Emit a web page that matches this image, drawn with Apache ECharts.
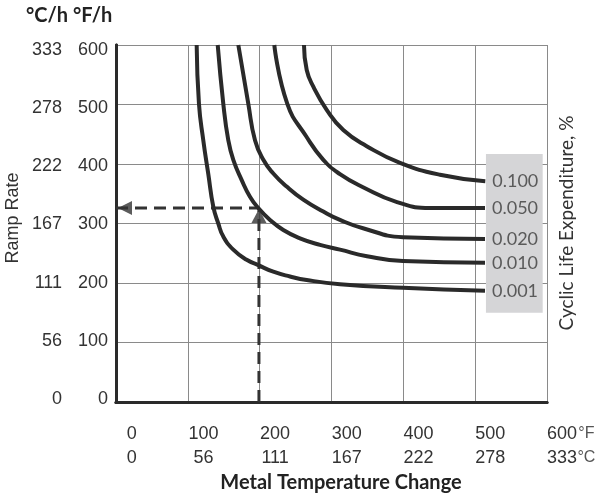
<!DOCTYPE html>
<html><head><meta charset="utf-8">
<script src="https://cdn.jsdelivr.net/npm/echarts/dist/echarts.min.js"></script>
<style>html,body{margin:0;padding:0;background:#fff}#c{width:600px;height:495px}</style>
</head><body><div id="c"></div>
<script>
// Tick labels
const fTicks = [0, 100, 200, 300, 400, 500, 600];
const cTicks = ['0', '56', '111', '167', '222', '278', '333'];
// Curves: [metal temperature change °F, ramp rate °F/h]
const curveNames = ['0.001', '0.010', '0.020', '0.050', '0.100'];
const curve001 = [[112.3,600],[115.5,501],[121.5,440],[128.5,383],[135.5,328],[142.4,300],[149.4,278],[163.3,256],[181.9,239],[198.1,230],[219.0,219],[242.2,211],[265.5,205],[311.8,198],[399.5,192],[513.7,187]];
const curve010 = [[141.6,600],[149.4,501],[156.3,440],[163.3,407],[175.0,373],[186.5,345],[198.1,326],[214.4,306],[232.9,289],[256.1,275],[284.0,264],[311.8,256],[349.4,245],[399.5,237],[513.7,234]];
const curve020 = [[170.3,600],[184.2,501],[193.5,440],[205.1,407],[219.0,384],[237.6,362],[260.7,340],[288.6,320],[311.8,306],[343.9,292],[399.5,277],[513.7,274]];
const curve050 = [[220.4,600],[238.5,501],[264.5,447],[288.6,407],[311.8,383],[343.9,361],[391.2,336],[437.1,326],[513.7,326]];
const curve100 = [[261.7,600],[265.5,558],[274.7,530],[293.3,491],[316.4,457],[349.0,430],[395.4,402],[451.0,382],[514.1,371]];
const curves = [curve001, curve010, curve020, curve050, curve100];
// Example reading (dashed guide)
const guideTemp = 199;
const guideRamp = 326;
// Label box range
const boxX = [515, 594];
const boxY = [150, 417];

const chart = echarts.init(document.getElementById('c'), null, {renderer: 'canvas'});
const tickFont = {fontFamily: 'Liberation Sans', fontSize: 18, color: '#333'};
const dark = '#2a2a2a';

function hiddenAxis(extra) {
  return Object.assign({type: 'value', min: 0, max: 600, interval: 100,
    axisLine: {show: false}, axisTick: {show: false}, axisLabel: {show: false}, splitLine: {show: false}}, extra);
}
const unitRich = {p: {width: 19}, u: {width: 19, fontFamily: 'Liberation Sans', fontSize: 16, color: '#555'}};

const xAxes = [
  hiddenAxis({gridIndex: 0, position: 'bottom', axisLine: {show: true, lineStyle: {color: dark, width: 3}},
    splitLine: {show: true, lineStyle: {color: '#8a8a8a', width: 1}}}),
  hiddenAxis({gridIndex: 0, position: 'top', axisLine: {show: true, lineStyle: {color: dark, width: 3}}}),
  hiddenAxis({gridIndex: 2, position: 'bottom', axisLabel: Object.assign({show: true, margin: 23,
    formatter: v => v === 600 ? '{p|}' + v + '{u|°F}' : String(v), rich: unitRich}, tickFont)}),
  hiddenAxis({gridIndex: 2, position: 'bottom', offset: 24, axisLabel: Object.assign({show: true, margin: 23,
    formatter: v => { const s = cTicks[fTicks.indexOf(v)]; return v === 600 ? '{p|}' + s + '{u|°C}' : s; },
    rich: unitRich}, tickFont)}),
  hiddenAxis({gridIndex: 1})
];
const yAxes = [
  hiddenAxis({gridIndex: 0, position: 'left', axisLine: {show: true, lineStyle: {color: dark, width: 3}},
    splitLine: {show: true, lineStyle: {color: '#8a8a8a', width: 1}}}),
  hiddenAxis({gridIndex: 0, position: 'right', axisLine: {show: true, lineStyle: {color: dark, width: 3}}}),
  hiddenAxis({gridIndex: 1, position: 'left', axisLabel: Object.assign({show: true, margin: 8, formatter: v => String(v)}, tickFont)}),
  hiddenAxis({gridIndex: 1, position: 'left', offset: 46, axisLabel: Object.assign({show: true, margin: 8,
    formatter: v => cTicks[fTicks.indexOf(v)]}, tickFont)}),
  hiddenAxis({gridIndex: 2})
];

const series = curves.map((d, i) => ({
  type: 'line', name: curveNames[i], xAxisIndex: 0, yAxisIndex: 0,
  data: d, smooth: 0.5, showSymbol: false, symbol: 'none', z: 5,
  lineStyle: {color: dark, width: 4},
  endLabel: {show: true, formatter: '{a}', distance: 7, fontFamily: 'Lato', fontSize: 18, color: '#5a5a5a'},
  markArea: i === 0 ? {silent: true, itemStyle: {color: '#d5d5d7'},
    data: [[{xAxis: boxX[0], yAxis: boxY[0]}, {xAxis: boxX[1], yAxis: boxY[1]}]]} : undefined
}));
const dash = {color: '#333', width: 3, type: [12, 7]};
series.push({type: 'line', xAxisIndex: 0, yAxisIndex: 0, symbol: 'none', z: 4,
  data: [[0, guideRamp], [guideTemp, guideRamp]], lineStyle: dash});
series.push({type: 'line', xAxisIndex: 0, yAxisIndex: 0, symbol: 'none', z: 4,
  data: [[guideTemp, 0], [guideTemp, guideRamp]], lineStyle: dash});
series.push({type: 'scatter', xAxisIndex: 0, yAxisIndex: 0, z: 6, silent: true,
  data: [[0, guideRamp]], symbol: 'triangle', symbolSize: [14, 14], symbolRotate: 90, symbolOffset: [9, 0],
  itemStyle: {color: '#333'}});
series.push({type: 'scatter', xAxisIndex: 0, yAxisIndex: 0, z: 6, silent: true,
  data: [[guideTemp, guideRamp]], symbol: 'triangle', symbolSize: [15, 14], symbolOffset: [0, 8],
  itemStyle: {color: '#333'}});

chart.setOption({
  animation: false,
  backgroundColor: '#fff',
  grid: [
    {left: 116, top: 45, width: 431, height: 357},
    {left: 116, top: 50, width: 431, height: 349},
    {left: 131.7, top: 45, width: 430.2, height: 357}
  ],
  xAxis: xAxes,
  yAxis: yAxes,
  series: series,
  graphic: [
    {type: 'text', left: 26, top: 6, style: {text: '°C/h °F/h', fontFamily: 'Lato', fontWeight: 'bold', fontSize: 20, fill: '#222'}},
    {type: 'text', x: 341, y: 483, style: {text: 'Metal Temperature Change', fontFamily: 'Lato', fontWeight: 'bold', fontSize: 20, fill: '#222', align: 'center', verticalAlign: 'middle'}},
    {type: 'text', x: 13, y: 218, rotation: Math.PI / 2, style: {text: 'Ramp Rate', fontFamily: 'Liberation Sans', fontSize: 18, fill: '#333', align: 'center', verticalAlign: 'middle'}},
    {type: 'text', x: 567, y: 223, rotation: Math.PI / 2, style: {text: 'Cyclic Life Expenditure, %', fontFamily: 'Lato', fontSize: 19, fill: '#333', align: 'center', verticalAlign: 'middle'}}
  ]
});
</script></body></html>
